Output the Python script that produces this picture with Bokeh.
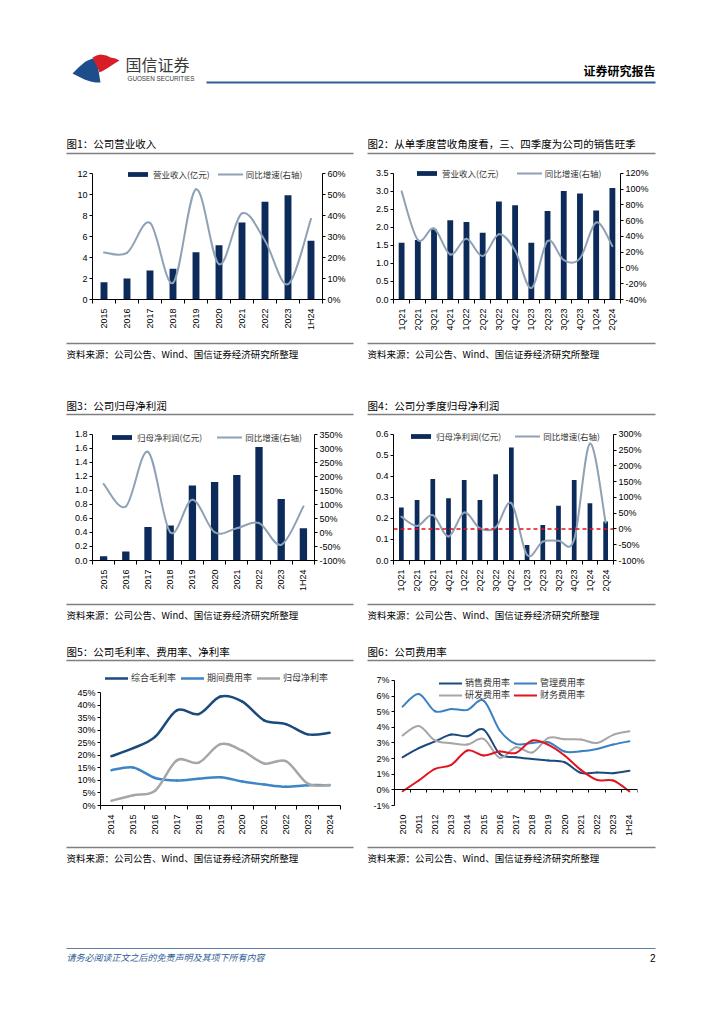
import numpy as np
from bokeh.plotting import figure
from bokeh.models import (Range1d, LinearAxis, FixedTicker, PrintfTickFormatter,
                          Legend, LegendItem, Span)
from bokeh.layouts import column, row
from bokeh.embed import file_html
from bokeh.resources import INLINE
from bokeh.core.properties import value

# ---------------- data ----------------
years_a = ["2015", "2016", "2017", "2018", "2019", "2020", "2021", "2022", "2023", "1H24"]
revenue = [1.65, 2.0, 2.76, 2.92, 4.5, 5.17, 7.33, 9.3, 9.94, 5.59]
revenue_yoy = [22.4, 22.2, 36.5, 7.9, 52.5, 16.8, 41.0, 28.0, 7.3, 38.4]

quarters = ["1Q21", "2Q21", "3Q21", "4Q21", "1Q22", "2Q22", "3Q22", "4Q22",
            "1Q23", "2Q23", "3Q23", "4Q23", "1Q24", "2Q24"]
q_revenue = [1.57, 1.65, 1.95, 2.2, 2.15, 1.85, 2.72, 2.61, 1.57, 2.45, 3.01, 2.94, 2.47, 3.09]
q_revenue_yoy = [97, 35.6, 50, 17, 37, 15, 42.7, 22, -25.5, 34, 10, 12, 57.6, 27.7]

net_profit = [0.062, 0.13, 0.48, 0.50, 1.07, 1.12, 1.22, 1.62, 0.88, 0.46]
net_profit_yoy = [173, 93, 288, 1, 117, 1, 15, 34, -44, 93]

q_net_profit = [0.252, 0.288, 0.388, 0.296, 0.383, 0.288, 0.41, 0.538, 0.074, 0.169, 0.26, 0.383, 0.272, 0.185]
q_net_profit_yoy = [39, 9.5, 44, -24, 52, 2, 5, 82, -82, -40, -37, -33, 271, 20]

years_m = ["2014", "2015", "2016", "2017", "2018", "2019", "2020", "2021", "2022", "2023", "2024"]
gross_margin = [19.7, 22.9, 27.4, 38.0, 36.5, 43.5, 41.5, 34.0, 32.5, 28.4, 29.0]
period_exp_rate = [14.1, 15.2, 11.0, 10.0, 10.7, 11.3, 9.6, 8.4, 7.5, 8.1, 8.1]
net_margin = [1.9, 4.1, 5.9, 18.0, 17.1, 24.5, 21.9, 16.8, 17.7, 8.7, 8.2]

years_e = ["2010", "2011", "2012", "2013", "2014", "2015", "2016", "2017", "2018",
           "2019", "2020", "2021", "2022", "2023", "1H24"]
selling_exp = [2.09, 2.67, 3.1, 3.54, 3.43, 3.86, 2.3, 2.09, 1.98, 1.88, 1.77, 1.09, 1.11, 1.07, 1.22]
admin_exp = [5.33, 6.14, 5.03, 5.18, 5.12, 5.71, 3.8, 2.94, 3.0, 3.05, 2.45, 2.47, 2.62, 2.9, 3.11]
rd_exp = [3.48, 4.09, 3.16, 2.99, 2.9, 3.26, 2.05, 2.73, 2.39, 3.33, 3.24, 3.22, 3.0, 3.52, 3.75]
fin_exp = [-0.09, 0.6, 1.34, 1.6, 2.52, 2.2, 2.45, 2.37, 3.16, 2.88, 2.2, 1.28, 0.64, 0.6, -0.1]

ticks_rev = [0, 2, 4, 6, 8, 10, 12]
ticks_rev_yoy = [0, 10, 20, 30, 40, 50, 60]
ticks_qrev = [0, 0.5, 1.0, 1.5, 2.0, 2.5, 3.0, 3.5]
ticks_qrev_yoy = [-40, -20, 0, 20, 40, 60, 80, 100, 120]
ticks_np = [0, 0.2, 0.4, 0.6, 0.8, 1.0, 1.2, 1.4, 1.6, 1.8]
ticks_np_yoy = [-100, -50, 0, 50, 100, 150, 200, 250, 300, 350]
ticks_qnp = [0, 0.1, 0.2, 0.3, 0.4, 0.5, 0.6]
ticks_qnp_yoy = [-100, -50, 0, 50, 100, 150, 200, 250, 300]
ticks_margin = [0, 5, 10, 15, 20, 25, 30, 35, 40, 45]
ticks_exp = [-1, 0, 1, 2, 3, 4, 5, 6, 7]

# ---------------- styles ----------------
CJK = "Noto Sans CJK SC"
NUM = "Liberation Sans"
NAVY = "#0C2B5B"
YOYC = "#8FA2B5"


def style_axis(ax, fmt=None):
    ax.axis_line_color = "black"
    ax.axis_line_width = 1
    ax.major_label_text_font = NUM
    ax.major_label_text_font_size = "9px"
    ax.major_label_text_color = "black"
    ax.major_tick_in = 0
    ax.major_tick_out = 3
    ax.major_tick_line_color = "black"
    ax.minor_tick_line_color = None
    ax.major_label_standoff = 2
    if fmt:
        ax.formatter = PrintfTickFormatter(format=fmt)


def style_x(ax, labels):
    n = len(labels)
    ax.ticker = FixedTicker(ticks=list(range(n)), minor_ticks=[i - 0.5 for i in range(n + 1)])
    ax.major_label_overrides = {i: lab for i, lab in enumerate(labels)}
    ax.axis_line_color = "black"
    ax.major_tick_line_color = None
    ax.minor_tick_line_color = "black"
    ax.minor_tick_in = 0
    ax.minor_tick_out = 4
    ax.major_label_orientation = np.pi / 2
    ax.major_label_text_font = NUM
    ax.major_label_text_font_size = "9px"
    ax.major_label_text_color = "black"
    ax.major_label_standoff = 3


def smooth(p, xs, ys, color, width, rng="default"):
    x = np.asarray(xs, float)
    y = np.asarray(ys, float)
    xp = np.r_[x[0], x, x[-1]]
    yp = np.r_[y[0], y, y[-1]]
    k = 1.0 / 6.0
    cx0 = xp[1:-2] + (xp[2:-1] - xp[:-3]) * k
    cy0 = yp[1:-2] + (yp[2:-1] - yp[:-3]) * k
    cx1 = xp[2:-1] - (xp[3:] - xp[1:-2]) * k
    cy1 = yp[2:-1] - (yp[3:] - yp[1:-2]) * k
    return p.bezier(x0=x[:-1], y0=y[:-1], x1=x[1:], y1=y[1:], cx0=cx0, cy0=cy0,
                    cx1=cx1, cy1=cy1, line_color=color, line_width=width,
                    line_cap="round", y_range_name=rng)


def make_legend(items, loc, spacing, font_size="8.5px", gw=25, gh=6):
    lg = Legend(items=[LegendItem(label=l, renderers=[r]) for l, r in items],
                location=loc, orientation="horizontal", spacing=spacing,
                padding=0, margin=0, border_line_color=None,
                background_fill_alpha=0, glyph_width=gw, glyph_height=gh,
                label_height=10, label_standoff=3, label_text_font=CJK,
                label_text_font_size=font_size, label_text_color="#333333")
    return lg


def bar_line(w, h, labels, bars, yoy, yr, yt, yfmt, pr, pt, borders, bw, lab_bar,
             leg_loc, leg_sp, hline=False):
    n = len(labels)
    ml, mr, mt, mb = borders
    # ranges extend a little above the top tick so the legend sits inside the frame;
    # the axis lines stop at the top tick through their bounds
    p = figure(width=w, height=h, x_range=Range1d(-0.5, n - 0.5), y_range=Range1d(*yr),
               output_backend="svg", toolbar_location=None,
               min_border_left=ml, min_border_right=mr, min_border_top=mt, min_border_bottom=mb)
    p.grid.visible = False
    p.outline_line_color = None
    style_axis(p.yaxis[0], yfmt)
    p.yaxis[0].ticker = FixedTicker(ticks=yt)
    p.yaxis[0].bounds = (yt[0], yt[-1])
    style_x(p.xaxis[0], labels)
    p.extra_y_ranges = {"pct": Range1d(*pr)}
    ax = LinearAxis(y_range_name="pct", ticker=FixedTicker(ticks=pt), bounds=(pt[0], pt[-1]))
    style_axis(ax, "%d%%")
    p.add_layout(ax, "right")
    xs = list(range(n))
    vb = p.vbar(x=xs, top=bars, width=bw, fill_color=NAVY, line_color=None)
    if hline:
        p.add_layout(Span(location=0, dimension="width", y_range_name="pct",
                          line_color="#E3101A", line_width=1.5, line_dash="4 3"))
    ln = smooth(p, xs, yoy, YOYC, 2, "pct")
    p.add_layout(make_legend([(lab_bar, vb), ("同比增速(右轴)", ln)], leg_loc, leg_sp))
    return p


# ---------------- charts ----------------
c1 = bar_line(362, 178, years_a, revenue, revenue_yoy, (0, 13.05), ticks_rev, None,
              (0, 65.24), ticks_rev_yoy, (92, 40, 2, 39), 0.3, "营业收入(亿元)", (33, 119), 8)
c2 = bar_line(362, 178, quarters, q_revenue, q_revenue_yoy, (0, 3.798), ticks_qrev, "%.1f",
              (-40, 133.6), ticks_qrev_yoy, (31, 104, 2, 36), 0.36, "营业收入(亿元)", (21, 120), 18)
c3 = bar_line(362, 178, years_a, net_profit, net_profit_yoy, (0, 1.971), ticks_np, "%.1f",
              (-100, 392.9), ticks_np_yoy, (92, 48, 2, 38), 0.33, "归母净利润(亿元)", (17, 117), 15)
c4 = bar_line(362, 178, quarters, q_net_profit, q_net_profit_yoy, (0, 0.6567), ticks_qnp, "%.1f",
              (-100, 337.8), ticks_qnp_yoy, (31, 111, 2, 37), 0.3, "归母净利润(亿元)", (15, 118), 14,
              hline=True)

# chart 5
n5 = len(years_m)
c5 = figure(width=362, height=172, x_range=Range1d(-0.5, n5 - 0.5), y_range=Range1d(0, 53.1),
            output_backend="svg", toolbar_location=None,
            min_border_left=100, min_border_right=22, min_border_top=0, min_border_bottom=34)
c5.grid.visible = False
c5.outline_line_color = None
style_axis(c5.yaxis[0], "%d%%")
c5.yaxis[0].ticker = FixedTicker(ticks=ticks_margin)
c5.yaxis[0].bounds = (0, 45)
style_x(c5.xaxis[0], years_m)
x5 = list(range(n5))
r51 = smooth(c5, x5, gross_margin, "#1B4A7C", 2.5)
r52 = smooth(c5, x5, period_exp_rate, "#3D85C6", 2.5)
r53 = smooth(c5, x5, net_margin, "#A6A6A6", 2.5)
c5.add_layout(make_legend([("综合毛利率", r51), ("期间费用率", r52), ("归母净利率", r53)],
                          (5, 121), 5, font_size="9px", gw=23, gh=6))

# chart 6
n6 = len(years_e)
c6 = figure(width=362, height=172, x_range=Range1d(-0.5, n6 - 0.5), y_range=Range1d(-1, 7.51),
            output_backend="svg", toolbar_location=None,
            min_border_left=32, min_border_right=87, min_border_top=4, min_border_bottom=35)
c6.grid.visible = False
c6.outline_line_color = None
style_axis(c6.yaxis[0], "%d%%")
c6.yaxis[0].ticker = FixedTicker(ticks=ticks_exp)
c6.yaxis[0].bounds = (-1, 7)
style_x(c6.xaxis[0], years_e)
c6.xaxis[0].axis_line_color = None
c6.xaxis[0].minor_tick_line_color = None
zero_ax = LinearAxis(fixed_location=0,
                     ticker=FixedTicker(ticks=[], minor_ticks=[i - 0.5 for i in range(n6 + 1)]),
                     major_tick_line_color=None, minor_tick_line_color="black",
                     minor_tick_in=0, minor_tick_out=3, axis_line_color="black")
c6.add_layout(zero_ax, "below")
x6 = list(range(n6))
r61 = smooth(c6, x6, selling_exp, "#1B4A7C", 2)
r62 = smooth(c6, x6, admin_exp, "#3B7FC4", 2)
r63 = smooth(c6, x6, rd_exp, "#A6A6A6", 2)
r64 = smooth(c6, x6, fin_exp, "#E0151F", 2)
c6.add_layout(make_legend([("销售费用率", r61), ("管理费用率", r62)], (45, 116), 4,
                          font_size="9px", gw=23, gh=6))
c6.add_layout(make_legend([("研发费用率", r63), ("财务费用率", r64)], (45, 104), 4,
                          font_size="9px", gw=23, gh=6))


# ---------------- page strips (header, titles, sources, footer) ----------------
def strip(y_top, y_bot):
    p = figure(width=724, height=y_bot - y_top, x_range=Range1d(0, 724),
               y_range=Range1d(y_bot, y_top), output_backend="svg", toolbar_location=None,
               min_border=0, x_axis_type=None, y_axis_type=None)
    p.grid.visible = False
    p.outline_line_color = None
    return p


def txt(p, x, y, s, size, font=CJK, color="black", align="left", style="normal"):
    p.text(x=[x], y=[y], text=[s], text_font=value(font), text_font_size=size,
           text_color=color, text_align=align, text_baseline="middle", text_font_style=style)


def hl(p, x0, x1, y, color="#7F7F7F", w=1.5):
    p.segment(x0=[x0], y0=[y], x1=[x1], y1=[y], line_color=color, line_width=w)


SRC = "资料来源：公司公告、Wind、国信证券经济研究所整理"
TITLE_SIZE = "10.5px"
SRC_SIZE = "9.5px"

s0 = strip(0, 160)
s0.patch(x=[72, 78, 85, 92, 95, 97, 98, 99, 100, 95, 90, 84, 78],
         y=[73, 67, 61, 58, 60, 64, 70, 76, 82, 82, 81, 79, 76], fill_color="#1D4E8B", line_color=None)
s0.patch(x=[92, 96, 100, 106, 110, 115, 119, 114, 108, 103, 99, 97, 94],
         y=[57, 55, 54, 55, 57, 58, 60, 63, 67, 70, 72, 67, 61], fill_color="#D71E27", line_color=None)
txt(s0, 125, 63, "国信证券", "16px", color="#3A3A3A")
txt(s0, 127, 78, "GUOSEN SECURITIES", "6.3px", font=NUM, color="#3A3A3A")
hl(s0, 206, 655, 82, color="#2C5E93", w=2)
txt(s0, 655, 70, "证券研究报告", "12px", align="right", style="bold")
txt(s0, 66, 143, "图1：公司营业收入", TITLE_SIZE)
txt(s0, 367, 143, "图2：从单季度营收角度看，三、四季度为公司的销售旺季", TITLE_SIZE)
hl(s0, 66, 353, 153)
hl(s0, 367, 655, 153)

s1 = strip(338, 420)
hl(s1, 66, 353, 343)
hl(s1, 367, 655, 343)
txt(s1, 66, 353, SRC, SRC_SIZE)
txt(s1, 367, 353, SRC, SRC_SIZE)
txt(s1, 66, 405, "图3：公司归母净利润", TITLE_SIZE)
txt(s1, 367, 405, "图4：公司分季度归母净利润", TITLE_SIZE)
hl(s1, 66, 353, 414)
hl(s1, 367, 655, 414)

s2 = strip(598, 668)
hl(s2, 66, 353, 604)
hl(s2, 367, 655, 604)
txt(s2, 66, 614, SRC, SRC_SIZE)
txt(s2, 367, 614, SRC, SRC_SIZE)
txt(s2, 66, 651, "图5：公司毛利率、费用率、净利率", TITLE_SIZE)
txt(s2, 367, 651, "图6：公司费用率", TITLE_SIZE)
hl(s2, 66, 353, 660)
hl(s2, 367, 655, 660)

s3 = strip(840, 1010)
hl(s3, 66, 353, 847)
hl(s3, 367, 655, 847)
txt(s3, 66, 857, SRC, SRC_SIZE)
txt(s3, 367, 857, SRC, SRC_SIZE)
hl(s3, 66, 655, 948, color="#5B7FA8", w=1)
txt(s3, 66, 957, "请务必阅读正文之后的免责声明及其项下所有内容", "9px", color="#2F5D95", style="italic")
txt(s3, 655, 957, "2", "10px", font=NUM, align="right")

page = column(s0, row(c1, c2), s1, row(c3, c4), s2, row(c5, c6), s3)

with open("out.html", "w") as f:
    f.write(file_html(page, INLINE))
